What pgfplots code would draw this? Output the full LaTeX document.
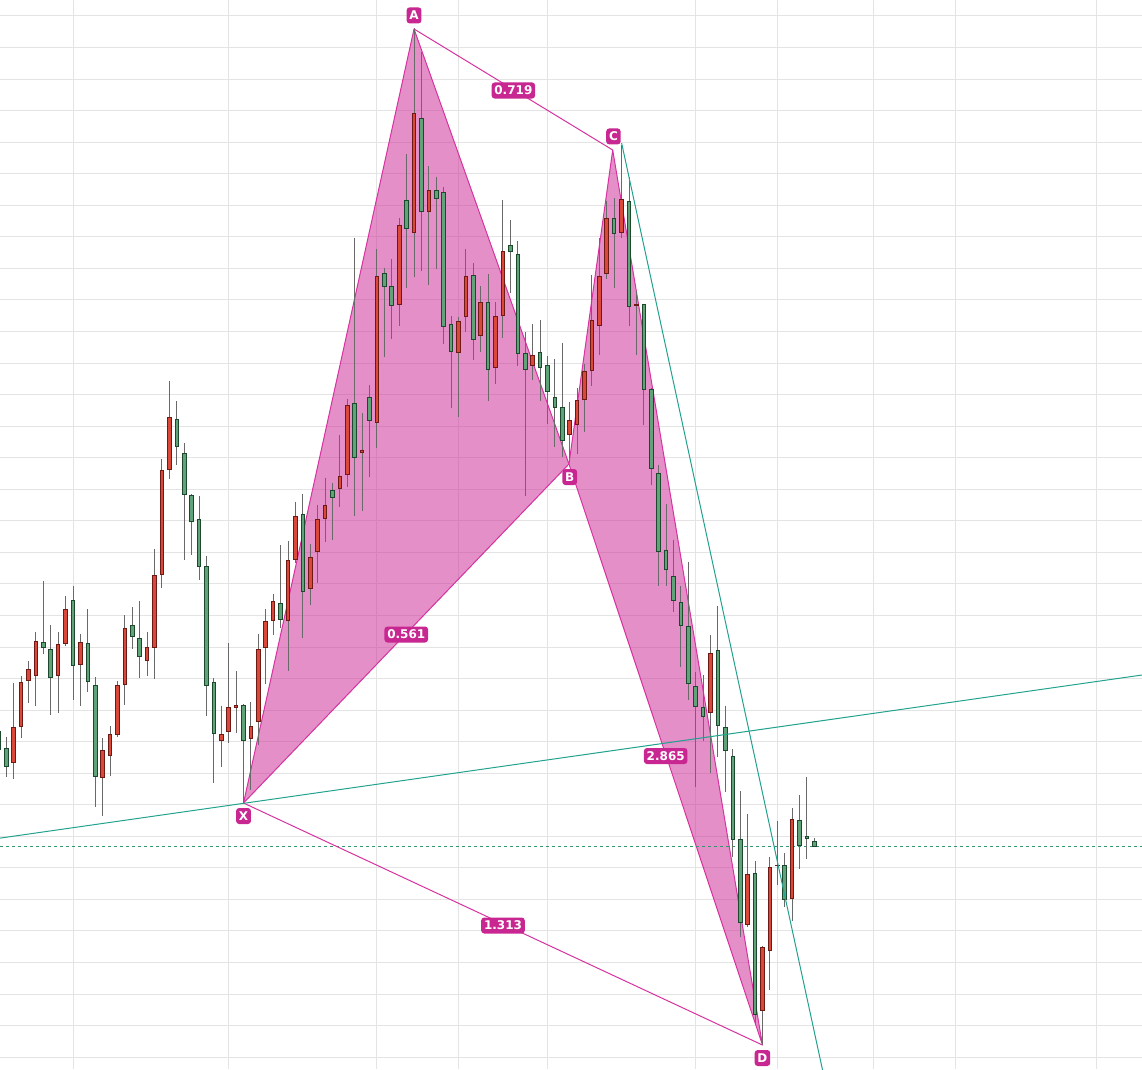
\documentclass[border=0pt]{standalone}
\usepackage{pgfplots}
\usepackage{pgfplotstable}
\usepackage{fontspec}
\pgfplotsset{compat=1.18}
\newfontfamily\labelfont{DejaVu Sans}

\definecolor{upfill}{RGB}{217,72,57}
\definecolor{upline}{RGB}{110,26,20}
\definecolor{dnfill}{RGB}{96,163,121}
\definecolor{dnline}{RGB}{28,72,45}
\definecolor{wick}{RGB}{105,105,105}
\definecolor{gridgray}{RGB}{228,228,228}
\definecolor{harmfill}{RGB}{206,51,153}
\definecolor{harmline}{RGB}{214,50,160}
\definecolor{harmlabel}{RGB}{200,38,145}
\definecolor{trend}{RGB}{34,162,142}
\definecolor{lastprice}{RGB}{50,150,110}

% candle columns: day, wick top, body top, body bottom, wick bottom (screen rows, downward)
\pgfplotstableread{
d wt bt bb wb
1 683.3 727.3 763.3 779.3
2 676 682.3 727.3 737.7
3 661 669.3 681.3 703.3
4 632 641.3 676.3 705.7
7 632 644.3 676.3 712.7
8 596.3 609.3 644.3 646.3
10 634.3 642.3 665.3 705.7
13 738.3 750.3 778.3 815.7
14 726.3 734.3 756.3 776.3
15 681.3 685.3 735.3 736.7
16 615.3 628.3 685.3 704.7
19 632.3 647.3 660.7 675.7
20 548.7 575.3 648.3 679.3
21 459 470.3 575.3 587.7
22 381 417.3 470.3 479.3
29 706.3 734.3 741.3 767.3
30 642.7 707.3 732.3 743.3
31 671 705.3 708.3 733.3
33 702.3 726.3 739.3 790
34 634.3 649.3 722.3 745
35 609.3 621.3 648.3 684.3
36 594.3 601.3 621.3 635.3
38 540.8 559.8 620.8 671.2
39 501.7 516.4 559.8 563
41 543.8 557.2 589.2 604.8
42 505 518.5 552.2 582.5
43 477.7 505 519.4 541.7
45 434.8 475.6 489.1 506.7
46 398.6 404.9 475.2 487
48 413.4 450 452.5 511.4
50 249.3 275.8 423 447.9
53 217.7 224.5 304.8 326.3
55 28.5 113.3 233.3 277.4
57 166 190.3 211.5 284.5
61 317.3 321.3 353.3 417.3
62 249 276.3 317.3 332.3
64 286.3 302.3 336.3 351.7
66 302.3 316.3 368.3 384.3
67 200.3 251.3 316.3 338.3
71 324.3 355.3 366.3 380.3
76 402.2 420.4 435 457.6
77 388.4 399.5 424.8 453.6
78 363.9 370.6 399.5 432.3
79 274.9 320.4 370.6 385.6
80 238.1 276.1 325.5 354.8
81 201 218.4 273.6 279
83 145 198.5 233.4 237.5
85 290.7 304.3 305.5 355
95 635 653.3 713.3 773.3
100 814 874.3 925.3 926.7
102 946 947.3 1011.3 1045
103 857 867.3 951.3 990
104 820.7 864.8 866 884.7
106 808.3 819.3 899.3 920.7
}\upcandles

\pgfplotstableread{
d wt bt bb wb
-1 726 731.3 750 760
0 736.7 748.3 766.7 776.7
5 581 642.3 648.3 654.3
6 625 649.3 678.3 714.7
9 586 600.3 666.3 700.3
11 609.3 643.3 682.3 692.3
12 677.3 685.3 777.3 806.7
17 607.3 625.3 637.3 649.3
18 601 638.3 656.7 677.7
23 401 419.3 447.3 465.3
24 443.3 453.3 495.3 560.3
25 494.3 495.3 522.3 554.7
26 496.3 519.3 567.3 580.3
27 556.3 566.3 686.3 716.3
28 678.3 682.3 734.3 783.3
32 704.3 705.3 741.3 803
37 545 602.5 619.5 628
40 494.1 514.3 592.2 637.6
44 482.8 490.3 498.3 539.6
47 237.5 402.8 457.5 516.4
49 385.2 397.4 420.9 477.3
51 268.2 273.3 287.1 356.6
52 259 286.3 306.1 338.5
54 154 200.3 229.2 287.5
56 51.7 118.3 211.5 270.7
58 177 190.3 199.3 268.5
59 187.2 192.3 327.3 344.3
60 316.3 324.3 352.3 407.7
63 263.3 275.3 340.3 360.3
65 274.3 302.3 370.3 401.3
68 220.3 245.3 252.3 293.3
69 241.3 254.3 354.3 366.3
70 332.3 353.3 370.3 496.3
72 320.3 352.3 368.3 401.3
73 356.3 365.3 392.3 424.3
74 359.3 397.3 408.3 447.3
75 342.9 406.6 441.4 456.8
82 198 218.4 233.6 287.6
84 177.3 201.4 306.6 325.6
86 303.5 303.6 389.5 425.4
87 388.4 388.5 468.5 484.7
88 464.7 472.6 551.7 586.1
89 504.2 549.7 569.5 586.1
90 539.8 576.2 601.1 611.8
91 586.1 602.3 625.6 667.1
92 561.6 625.6 684.2 700
93 672.3 686.1 706.7 787
94 675 706.7 717.3 740.7
96 606 650.3 726.3 756.7
97 706 727.3 751.3 791.7
98 749.3 756.3 840.3 856.7
99 791 839.3 923.3 936.7
101 861 873.3 1015.3 1025
105 853 865.3 900.3 906.7
107 795 820.3 846.3 869.3
108 777.3 836.3 839.3 858.7
109 838.3 841.3 847.3 847.3
}\dncandles

\pgfplotsset{
  vbar/.style n args={2}{draw=none, mark=none, forget plot,
    error bars/y dir=plus, error bars/y explicit, error bars/error mark=none,
    error bars/error bar style={draw=#1, line width=#2, line cap=butt}},
}
\tikzset{
  tag/.style={fill=harmlabel, text=white, rounded corners=1.5pt,
    font=\labelfont\bfseries\fontsize{6}{7}\selectfont,
    inner xsep=1.4pt, inner ysep=1.8pt, text height=4.4pt, text depth=0pt},
}

\begin{document}
\begin{tikzpicture}
\begin{axis}[
  name=main,
  scale only axis, width=571pt, height=534.5pt,
  xmin=-0.85, xmax=153.2, ymin=0, ymax=1069, y dir=reverse,
  xtick={9,30,50,61,73,93,104,117,128,147},
  ytick={16,47.55,...,1060},
  xticklabels={}, yticklabels={},
  tick style={draw=none}, tick label style={inner sep=0pt},
  axis line style={draw=none},
  grid=major, major grid style={draw=gridgray, line width=0.5pt},
  clip=true,
]
% harmonic XABCD fill
\addplot[forget plot, fill=harmfill, fill opacity=0.55, draw=harmline, line width=0.5pt, line join=round]
  coordinates {(32,803) (55,29) (75.9,464) (32,803)};
\addplot[forget plot, fill=harmfill, fill opacity=0.55, draw=harmline, line width=0.5pt, line join=round]
  coordinates {(75.9,464) (81.8,150) (102,1045) (75.9,464)};

% last price
\addplot[forget plot, lastprice, line width=0.5pt, dash pattern=on 1.5pt off 1.5pt]
  coordinates {(-0.85,846.3) (153.2,846.3)};

% wicks
\addplot[vbar={wick}{0.5pt}] table[x=d, y=wt, y error plus expr=\thisrow{wb}-\thisrow{wt}] \upcandles;
\addplot[vbar={wick}{0.5pt}] table[x=d, y=wt, y error plus expr=\thisrow{wb}-\thisrow{wt}] \dncandles;
% bodies: outline, then fill
\addplot[vbar={upline}{2.3pt}] table[x=d, y=bt, y error plus expr=\thisrow{bb}-\thisrow{bt}] \upcandles;
\addplot[vbar={upfill}{1.3pt}] table[x=d, y expr=\thisrow{bt}+1, y error plus expr={max(\thisrow{bb}-\thisrow{bt}-2,0)}] \upcandles;
\addplot[vbar={dnline}{2.3pt}] table[x=d, y=bt, y error plus expr=\thisrow{bb}-\thisrow{bt}] \dncandles;
\addplot[vbar={dnfill}{1.3pt}] table[x=d, y expr=\thisrow{bt}+1, y error plus expr={max(\thisrow{bb}-\thisrow{bt}-2,0)}] \dncandles;

% pattern legs
\addplot[forget plot, harmline, line width=0.5pt] coordinates {(55,29) (81.8,150)};
\addplot[forget plot, harmline, line width=0.5pt] coordinates {(32,803) (102,1045)};

% trend lines
\addplot[forget plot, trend, line width=0.5pt] coordinates {(-0.85,838.1) (153.2,675)};
\addplot[forget plot, trend, line width=0.5pt] coordinates {(83,143) (110.4,1080)};

% ratio tags
\addplot[forget plot, draw=none, mark=none, nodes near coords, point meta=explicit symbolic,
  nodes near coords style={tag, anchor=center}] table[meta=t] {
x y t
68.4 90.5 0.719
53.95 634.5 0.561
88.95 756 2.865
67 925.5 1.313
};
% pivot tags
\addplot[forget plot, draw=none, mark=none, nodes near coords, point meta=explicit symbolic,
  nodes near coords style={tag, anchor=center, yshift=6.8pt}] table[meta=t] {
x y t
55 29 A
81.9 150 C
};
\addplot[forget plot, draw=none, mark=none, nodes near coords, point meta=explicit symbolic,
  nodes near coords style={tag, anchor=center, yshift=-6.5pt}] table[meta=t] {
x y t
32 803 X
76 464 B
102 1045 D
};
\end{axis}
\pgfresetboundingbox
\path[use as bounding box] (main.south west) rectangle (main.north east);
\end{tikzpicture}
\end{document}
